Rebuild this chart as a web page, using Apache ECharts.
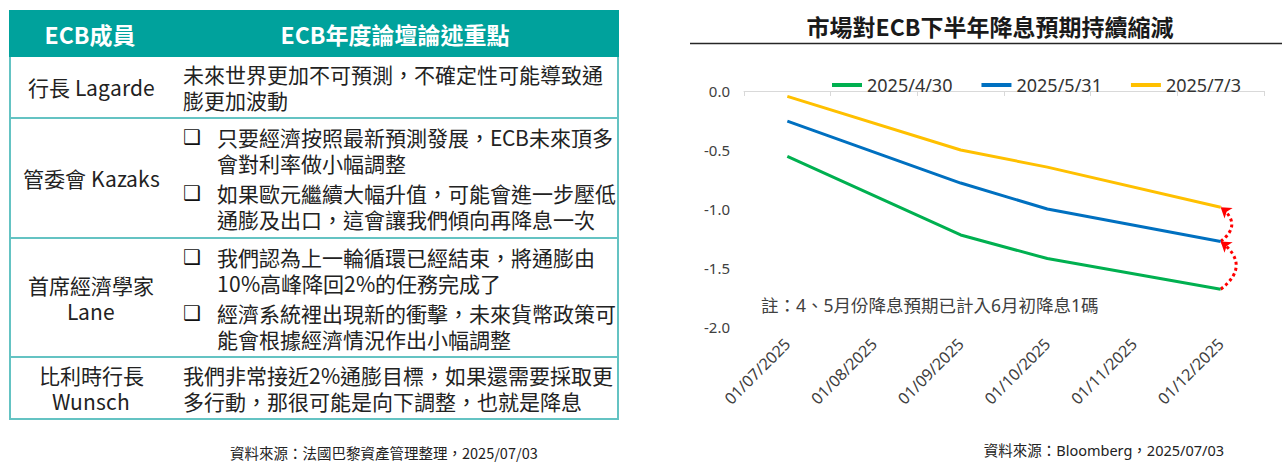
<!DOCTYPE html>
<html>
<head>
<meta charset="utf-8">
<script src="https://cdn.jsdelivr.net/npm/echarts@6/dist/echarts.min.js"></script>
<style>
  /* 緊湊行高用：與原字型同字形，只縮小行框 */
  @font-face {
    font-family: "TCTight";
    src: local("Noto Sans CJK TC"), local("Noto Sans CJK TC Regular"), local("NotoSansCJKtc-Regular");
    ascent-override: 104%; descent-override: 16%; line-gap-override: 0%;
  }
  body { margin:0; width:1282px; height:462px; background:#fff; overflow:hidden;
         font-family:"Noto Sans CJK TC", sans-serif; color:#222; }
  #tbl { position:absolute; left:9px; top:10px; width:610px; }
  .hd { height:47px; background:#00a29c; color:#fff; font-weight:bold; font-size:23px; display:flex; }
  .hd div { display:flex; align-items:center; justify-content:center; }
  .row { display:flex; box-sizing:border-box; border:2px solid #64c3c3; border-top:none; }
  .c1 { width:160px; display:flex; align-items:center; justify-content:center; text-align:center;
        font-family:"TCTight", "Noto Sans CJK TC", sans-serif;
        font-size:21px; line-height:26px; white-space:nowrap; }
  .c2 { flex:1; padding-left:12px; display:flex; flex-direction:column; justify-content:center;
        font-family:"TCTight", "Noto Sans CJK TC", sans-serif;
        font-size:21px; line-height:26px; white-space:nowrap; }
  .b { display:flex; }
  .b + .b { margin-top:4px; }
  .m { width:34px; flex:none; font-family:"DejaVu Sans", sans-serif; font-size:20px; font-weight:bold; color:#111; }
  #src1 { position:absolute; left:230px; top:442px; font-size:14.5px; color:#222; white-space:nowrap; }
  #main { position:absolute; left:680px; top:0; width:602px; height:462px; }
</style>
</head>
<body>
<div id="tbl">
  <div class="hd"><div style="width:162px">ECB成員</div><div style="flex:1">ECB年度論壇論述重點</div></div>
  <div class="row" style="height:62px">
    <div class="c1">行長 Lagarde</div>
    <div class="c2"><div>未來世界更加不可預測，不確定性可能導致通<br>膨更加波動</div></div>
  </div>
  <div class="row" style="height:120px">
    <div class="c1">管委會 Kazaks</div>
    <div class="c2">
      <div class="b"><span class="m">❑</span><span>只要經濟按照最新預測發展，ECB未來頂多<br>會對利率做小幅調整</span></div>
      <div class="b"><span class="m">❑</span><span>如果歐元繼續大幅升值，可能會進一步壓低<br>通膨及出口，這會讓我們傾向再降息一次</span></div>
    </div>
  </div>
  <div class="row" style="height:119px">
    <div class="c1">首席經濟學家<br>Lane</div>
    <div class="c2">
      <div class="b"><span class="m">❑</span><span>我們認為上一輪循環已經結束，將通膨由<br>10%高峰降回2%的任務完成了</span></div>
      <div class="b"><span class="m">❑</span><span>經濟系統裡出現新的衝擊，未來貨幣政策可<br>能會根據經濟情況作出小幅調整</span></div>
    </div>
  </div>
  <div class="row" style="height:62px">
    <div class="c1">比利時行長<br>Wunsch</div>
    <div class="c2"><div>我們非常接近2%通膨目標，如果還需要採取更<br>多行動，那很可能是向下調整，也就是降息</div></div>
  </div>
</div>
<div id="src1">資料來源：法國巴黎資產管理整理，2025/07/03</div>
<div id="main"></div>
<script>
  // 月份 (每月1日)
  var months = ['01/07/2025', '01/08/2025', '01/09/2025', '01/10/2025', '01/11/2025', '01/12/2025'];
  var seriesNames = ['2025/4/30', '2025/5/31', '2025/7/3'];
  // 市場預期累計降息幅度 (%), 8月與11月無會議
  var apr30 = [-0.555, null, -1.22, -1.42, null, -1.68];
  var may31 = [-0.255, null, -0.78, -1.00, null, -1.275];
  var jul3  = [-0.045, null, -0.50, -0.645, null, -0.985];
  var yMin = -2.0, yMax = 0.0, yStep = 0.5;
  var colors = ['#00b050', '#0070c0', '#ffc000'];

  var last = months.length - 1;
  var arrows = [
    {coords: [[last, apr30[last]], [last, may31[last]]]},
    {coords: [[last, may31[last]], [last, jul3[last]]]}
  ];

  var font = '"Noto Sans", "Noto Sans CJK TC", sans-serif';
  var myChart = echarts.init(document.getElementById('main'), null, {renderer: 'svg'});
  var option = {
    animation: false,
    title: {
      text: '市場對ECB下半年降息預期持續縮減',
      left: 305, top: 9, textAlign: 'center',
      textStyle: {fontSize: 23, fontWeight: 'bold', color: '#1a1a1a', fontFamily: '"Noto Sans CJK TC", sans-serif'}
    },
    legend: {
      data: seriesNames,
      left: 147, top: 71,
      icon: 'rect', itemWidth: 30, itemHeight: 4, itemGap: 29, itemTextGap: 4,
      textStyle: {fontSize: 18, color: '#333', width: 86, fontFamily: font}
    },
    grid: {left: 64, right: 18, top: 91, bottom: 135},
    xAxis: [
      {
        type: 'category', data: months, position: 'bottom', boundaryGap: true,
        axisLine: {show: false, onZero: false}, axisTick: {show: false},
        axisLabel: {rotate: 45, fontSize: 16, color: '#404040', margin: 14, fontFamily: font, interval: 0}
      },
      {
        type: 'category', data: months, position: 'top', boundaryGap: true,
        axisLine: {onZero: false, lineStyle: {color: '#d9d9d9', width: 1}},
        axisTick: {show: true, inside: true, length: 5, interval: 0, lineStyle: {color: '#d9d9d9'}},
        axisLabel: {show: false}
      }
    ],
    yAxis: {
      type: 'value', min: yMin, max: yMax, interval: yStep,
      axisLine: {show: false}, axisTick: {show: false}, splitLine: {show: false},
      axisLabel: {fontSize: 15, color: '#404040', margin: 14, fontFamily: font,
                  formatter: function (v) { return v.toFixed(1); }}
    },
    series: [
      {name: seriesNames[0], type: 'line', data: apr30, connectNulls: true, symbol: 'none',
       itemStyle: {color: colors[0]}, lineStyle: {width: 3, color: colors[0]}},
      {name: seriesNames[1], type: 'line', data: may31, connectNulls: true, symbol: 'none',
       itemStyle: {color: colors[1]}, lineStyle: {width: 3, color: colors[1]}},
      {name: seriesNames[2], type: 'line', data: jul3, connectNulls: true, symbol: 'none',
       itemStyle: {color: colors[2]}, lineStyle: {width: 3, color: colors[2]}},
      {type: 'lines', coordinateSystem: 'cartesian2d', xAxisIndex: 0, yAxisIndex: 0,
       symbol: ['none', 'arrow'], symbolSize: 10, silent: true,
       lineStyle: {color: '#ff0000', width: 3, type: 'dotted', curveness: -0.65, opacity: 1},
       data: arrows}
    ],
    graphic: [
      {type: 'line', shape: {x1: 10, y1: 43.5, x2: 602, y2: 43.5}, style: {stroke: '#262626', lineWidth: 1.5}},
      {type: 'text', left: 81, top: 296,
       style: {text: '註：4、5月份降息預期已計入6月初降息1碼', fontSize: 17.5, fill: '#404040', fontFamily: font}},
      {type: 'text', right: 58, top: 443,
       style: {text: '資料來源：Bloomberg，2025/07/03', fontSize: 14.5, fill: '#222', fontFamily: font}}
    ]
  };
  myChart.setOption(option);
</script>
</body>
</html>
